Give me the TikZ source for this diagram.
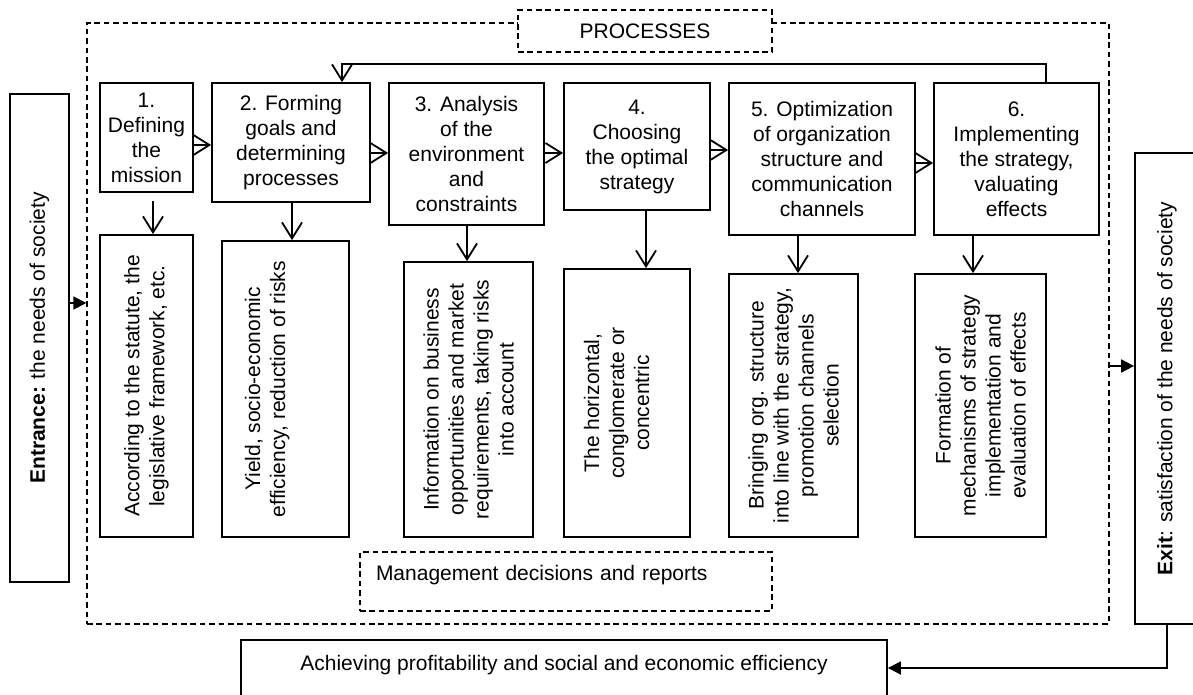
\documentclass[tikz,border=0pt]{standalone}
\usepackage{fontspec}
\setmainfont{Liberation Sans}
\usepackage{tikz}
\usetikzlibrary{arrows.meta,positioning}
\tikzstyle{stage}  =[rectangle, draw, line width=0.9pt,
                     align=center, inner sep=2pt]
\tikzstyle{result} =[rectangle, draw, line width=0.9pt,
                     rotate=90, align=center, inner sep=2pt]
\tikzstyle{dashbox}=[rectangle, draw, line width=0.7pt,
                     dash pattern=on 2.8pt off 1.9pt]
\tikzstyle{link}   =[line width=0.9pt,
                     -{Straight Barb[length=8pt,width=10pt]}]
\tikzstyle{push}   =[line width=0.9pt,
                     -{Triangle[length=6.5pt,width=6.5pt]}]
\newcommand{\liftby}[2]{\raisebox{#1}[\height][\depth]{\begin{tabular}{@{}c@{}}#2\end{tabular}}}

\begin{document}
\begin{tikzpicture}[x=0.5pt, y=-0.5pt,
    every node/.style={font=\fontsize{10.5}{12.5}\selectfont}]

    \useasboundingbox (0,0) rectangle (1193,695);

    % frame and side boxes
    \draw (598,323.5) node (frame) [dashbox, minimum width=511pt, minimum height=300.5pt] {};
    \draw (645,31) node (ptitle) [dashbox, fill=white, minimum width=127pt, minimum height=21pt] {PROCESSES};
    \draw (566,581.5) node (mgmt) [dashbox, minimum width=206pt, minimum height=29.5pt, text width=190pt,
        inner xsep=8pt, align=left, text height=7.5pt, text depth=8.8pt] {Management decisions and reports};
    \draw (39.5,338) node (entr) [result, minimum width=244pt, minimum height=29.5pt] {\textbf{Entrance:} the needs of society};
    \draw (1167,388.5) node (exit) [result, minimum width=235.5pt, minimum height=32pt] {\textbf{Exit}: satisfaction of the needs of society};
    \draw (564,670) node (goal) [stage, minimum width=323pt, minimum height=30pt, text height=8pt, text depth=8pt] {Achieving profitability and social and economic efficiency};

    % stages
    \draw (146.5,137.5) node (p1) [stage, minimum width=46.5pt, minimum height=54.5pt] {1.\\Defining\\the\\mission};
    \draw (291,142.5) node (p2) [stage, minimum width=79pt, minimum height=59.5pt] {2. Forming\\goals and\\determining\\processes};
    \draw (466.5,154) node (p3) [stage, minimum width=77.5pt, minimum height=71pt] {3. Analysis\\of the\\environment\\and\\constraints};
    \draw (637,146.5) node (p4) [stage, minimum width=73pt, minimum height=63.5pt] {4.\\Choosing\\the optimal\\strategy};
    \draw (822,159) node (p5) [stage, minimum width=93pt, minimum height=76pt] {5. Optimization\\of organization\\structure and\\communication\\channels};
    \draw (1016.5,159) node (p6) [stage, minimum width=82.5pt, minimum height=76pt] {6.\\Implementing\\the strategy,\\valuating\\effects};

    % results of the stages
    \draw (146.5,386) node (s1) [result, minimum width=151pt, minimum height=46.5pt] {According to the statute, the\\legislative framework, etc.};
    \draw (285.5,389) node (s2) [result, minimum width=148pt, minimum height=63.5pt] {\liftby{9pt}{Yield, socio-economic\\efficiency, reduction of risks}};
    \draw (468.5,399.5) node (s3) [result, minimum width=137.5pt, minimum height=64.5pt] {Information on business\\opportunities and market\\requirements, taking risks\\into account};
    \draw (627,403) node (s4) [result, minimum width=134pt, minimum height=63pt] {\liftby{4pt}{The horizontal,\\conglomerate or\\concentric}};
    \draw (793.5,405.5) node (s5) [result, minimum width=131.5pt, minimum height=64.5pt] {Bringing org. structure\\into line with the strategy,\\promotion channels\\selection};
    \draw (980.5,405.5) node (s6) [result, minimum width=131.5pt, minimum height=65.5pt] {Formation of\\mechanisms of strategy\\implementation and\\evaluation of effects};

    \foreach \a/\b/\y in {p1/p2/145, p2/p3/153, p3/p4/153, p4/p5/150, p5/p6/163}
        \draw [link] (\a.east |- 0,\y) -- (\b.west |- 0,\y);

    \draw [link, shorten <=4pt] (153,0 |- p1.south) -- (153,0 |- s1.east);
    \foreach \a/\b/\x in {p2/s2/292, p3/s3/467, p4/s4/646, p5/s5/798, p6/s6/973}
        \draw [link] (\x,0 |- \a.south) -- (\x,0 |- \b.east);

    \draw [link] (1046,0 |- p6.north) -- (1046,64) -| (342,0 |- p2.north);

    \draw [push] (entr.south |- 0,303) -- (frame.west |- 0,303);
    \draw [push] (frame.east |- 0,366) -- (exit.north |- 0,366);
    \draw [push] (exit.west) |- (goal.east |- 0,668);

\end{tikzpicture}
\end{document}
